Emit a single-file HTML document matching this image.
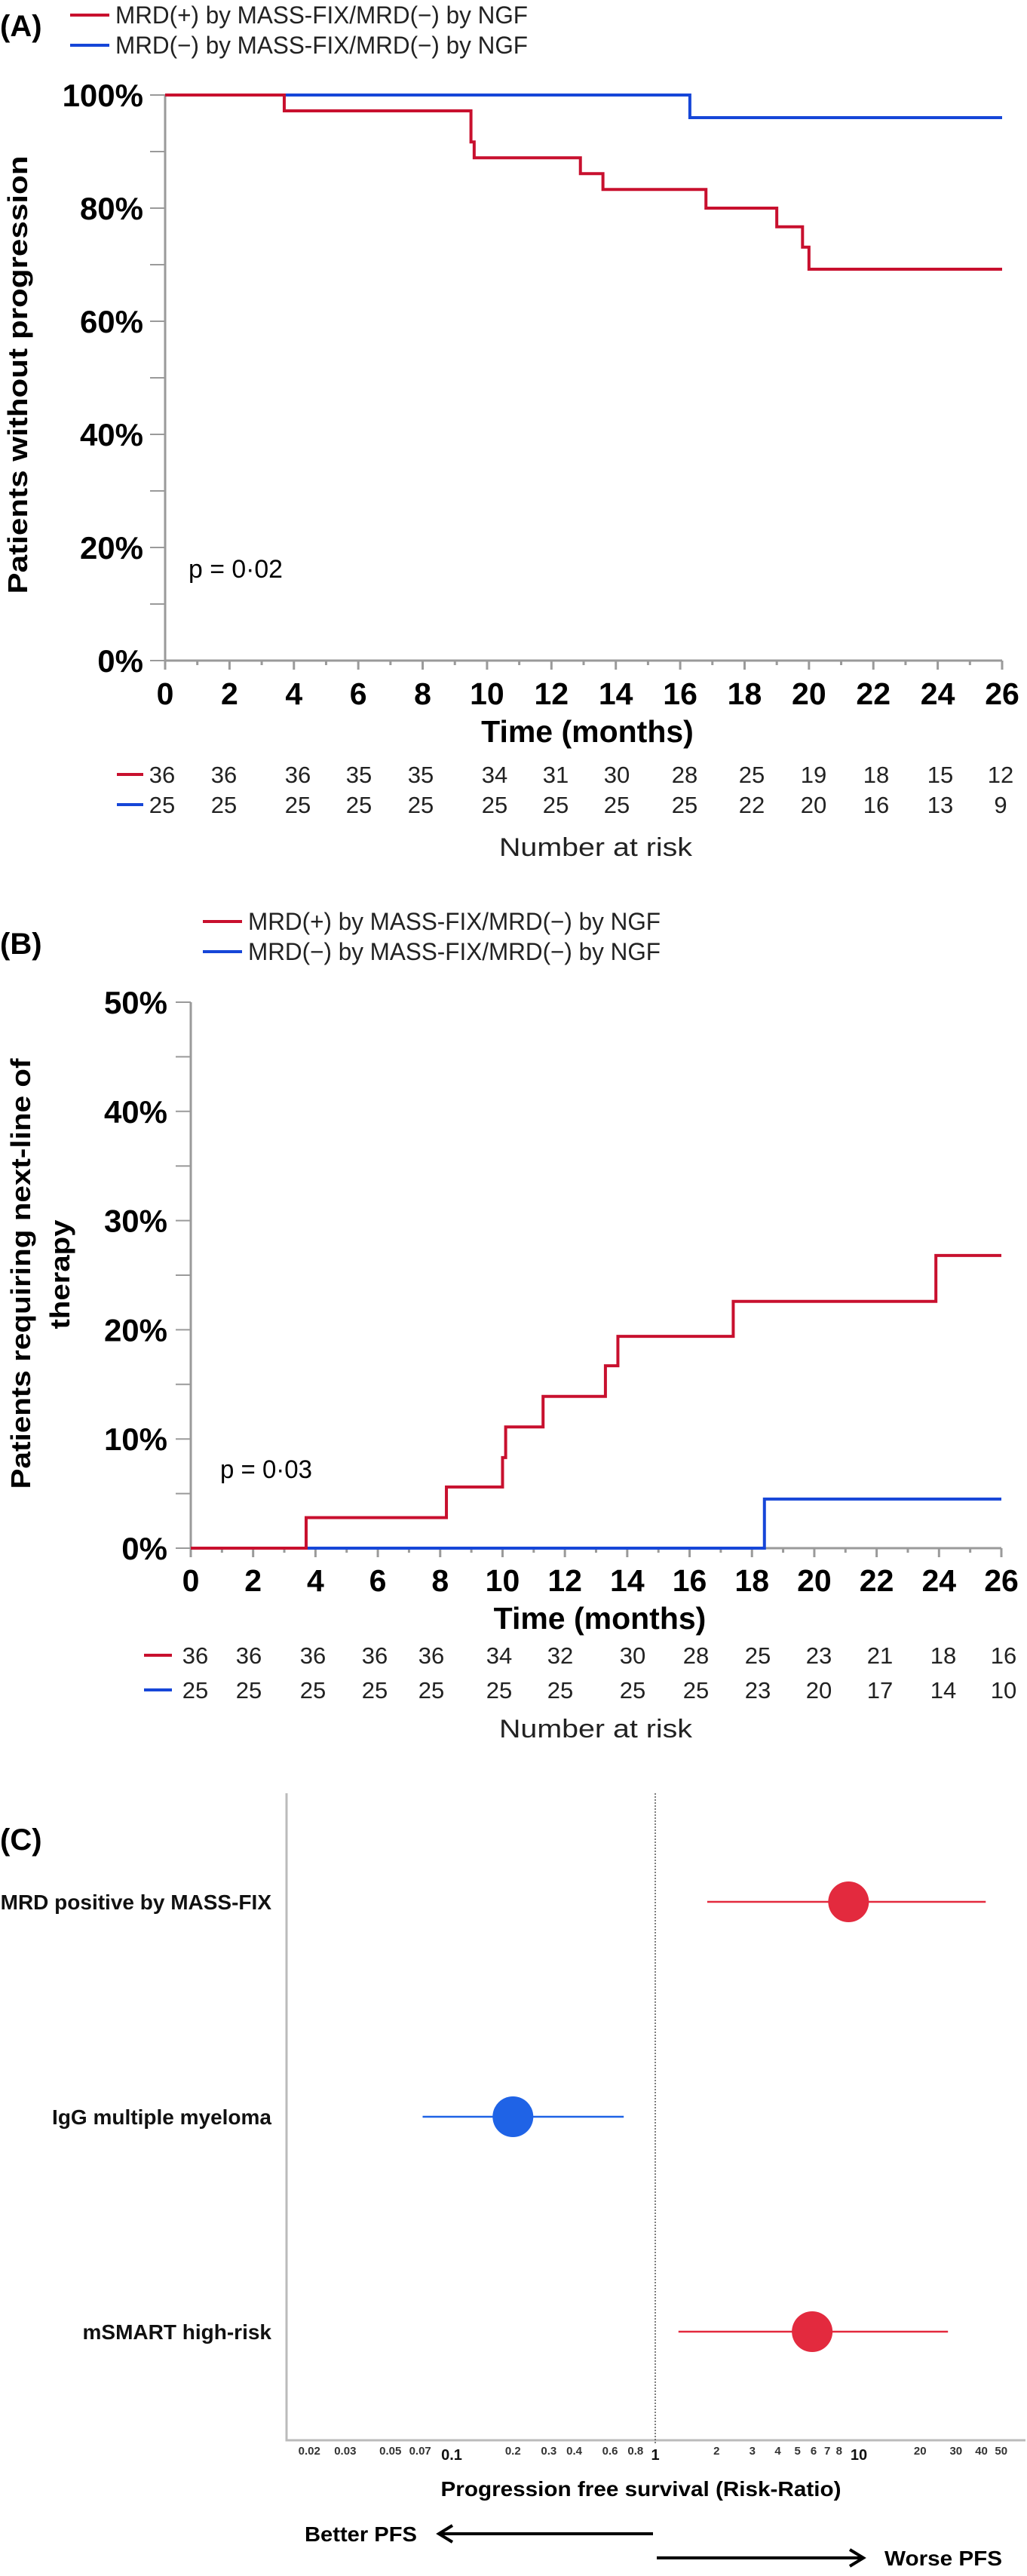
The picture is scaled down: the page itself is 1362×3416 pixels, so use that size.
<!DOCTYPE html>
<html><head><meta charset="utf-8"><style>
html,body{margin:0;padding:0;background:#fff}
svg{display:block;font-family:"Liberation Sans",Arial,sans-serif}
</style></head><body>
<svg id="fig" width="1362" height="3416" viewBox="0 0 1362 3416" xmlns="http://www.w3.org/2000/svg">
<g id="pa"></g>
<g id="pb"></g>
<g id="pc"></g>
</svg>
<script>
// Panel A data
const aTicksX = [0,2,4,6,8,10,12,14,16,18,20,22,24,26];
const aTicksY = [0,20,40,60,80,100];
const aRedT = [0,3.7,9.5,9.6,12.9,13.6,16.8,19.0,19.8,20.0,26];
const aRedV = [100,97.2,91.7,88.9,86.1,83.3,80.0,76.7,73.1,69.2,69.2];
const aBlueT = [0,16.3,26];
const aBlueV = [100,96.0,96.0];
const aRiskRed = [36,36,36,35,35,34,31,30,28,25,19,18,15,12];
const aRiskBlue = [25,25,25,25,25,25,25,25,25,22,20,16,13,9];
const aRiskX = [215,297,395,476,558,656,737,818,908,997,1079,1162,1247,1327];
// Panel B data
const bTicksX = [0,2,4,6,8,10,12,14,16,18,20,22,24,26];
const bTicksY = [0,10,20,30,40,50];
const bRedT = [0,3.7,8.2,10.0,10.1,11.3,13.3,13.7,17.4,23.9,26];
const bRedV = [0,2.8,5.6,8.3,11.1,13.9,16.7,19.4,22.6,26.8,26.8];
const bBlueT = [0,18.4,26];
const bBlueV = [0,4.5,4.5];
const bRiskRed = [36,36,36,36,36,34,32,30,28,25,23,21,18,16];
const bRiskBlue = [25,25,25,25,25,25,25,25,25,23,20,17,14,10];
const bRiskX = [259,330,415,497,572,662,743,839,923,1005,1086,1167,1251,1331];
// Panel C data
const cLabels = ["MRD positive by MASS-FIX","IgG multiple myeloma","mSMART  high-risk"];
const cEst = [8.9,0.2,5.9];
const cLow = [1.8,0.072,1.3];
const cHigh = [42,0.70,27.4];
const cColors = ["red","blue","red"];
const cTicks = [0.02,0.03,0.05,0.07,0.1,0.2,0.3,0.4,0.6,0.8,1,2,3,4,5,6,7,8,10,20,30,40,50];
const cMajor = [0.1,1,10];

const NS="http://www.w3.org/2000/svg";
const RED="#c8102e", BLUE="#1646d8", AX="#9a9a9a";
function mk(parent,tag,attrs,txt){const e=document.createElementNS(NS,tag);for(const k in attrs)e.setAttribute(k,attrs[k]);if(txt!==undefined)e.textContent=txt;parent.appendChild(e);return e;}
function stepPath(ts,vs,sx,sy){let d="M"+sx(ts[0])+","+sy(vs[0]);for(let i=1;i<ts.length;i++){d+=" H"+sx(ts[i])+" V"+sy(vs[i]);}return d;}

function km(g,o){
  const sx=t=>o.x0+(o.x1-o.x0)*t/26;
  const sy=v=>o.y0+(o.y1-o.y0)*(v-o.vmin)/(o.vmax-o.vmin);
  // label
  let t=mk(g,"text",{x:0,y:o.labY,"font-size":40,"font-weight":"bold"},o.lab);
  
  
  // legend
  const lg=[["MRD(+) by MASS-FIX/MRD(\u2212) by NGF",RED,o.legY[0]],["MRD(\u2212) by MASS-FIX/MRD(\u2212) by NGF",BLUE,o.legY[1]]];
  lg.forEach((l,i)=>{
    const ln=mk(g,"line",{x1:o.legX,x2:o.legX+52,y1:l[2],y2:l[2],stroke:l[1],"stroke-width":4});
    
    
    const tx=mk(g,"text",{x:o.legX+60,y:l[2]+11,"font-size":32,textLength:547,lengthAdjust:"spacingAndGlyphs",fill:"#222"},l[0]);
    
    
  });
  // axes
  const ax=mk(g,"path",{d:`M${o.x0},${o.y1} V${o.y0} H${o.x1}`,stroke:AX,"stroke-width":3,fill:"none"});
  
  
  for(let m=0;m<=26;m++){const tk=mk(g,"line",{x1:sx(m),x2:sx(m),y1:o.y0,y2:o.y0+(m%2?6:12),stroke:AX,"stroke-width":3});
    
    }
  const stepY=(o.vmax-o.vmin)/10;
  for(let v=o.vmin;v<=o.vmax+0.01;v+=stepY){const tk=mk(g,"line",{x1:o.x0-20,x2:o.x0,y1:sy(v),y2:sy(v),stroke:AX,"stroke-width":2});
    
    }
  o.ticksX.forEach(v=>{const tl=mk(g,"text",{x:sx(v),y:o.tickY,"font-size":41,"font-weight":"bold","text-anchor":"middle"},String(v));
    
    });
  o.ticksY.forEach(v=>{const tl=mk(g,"text",{x:o.ylabRight,y:sy(v)+15,"font-size":42,"font-weight":"bold","text-anchor":"end"},v+"%");
    
    });
  const xt=mk(g,"text",{x:(o.x0+o.x1)/2+5,y:o.titleY,"font-size":41,"font-weight":"bold","text-anchor":"middle"},"Time (months)");
  
  
  o.yTitle.forEach(yt=>{const e=mk(g,"text",{x:0,y:0,"font-size":36,"font-weight":"bold","text-anchor":"middle",textLength:yt[3],lengthAdjust:"spacingAndGlyphs",transform:`translate(${yt[1]},${yt[2]}) rotate(-90)`},yt[0]);
    
    });
  const p=mk(g,"text",{x:o.pX,y:o.pY,"font-size":34,textLength:o.pW,lengthAdjust:"spacingAndGlyphs"},o.pText);
  
  
  // curves
  const bl=mk(g,"path",{d:stepPath(o.blueT,o.blueV,sx,sy),stroke:BLUE,"stroke-width":4,fill:"none"});
  
  
  const rd=mk(g,"path",{d:stepPath(o.redT,o.redV,sx,sy),stroke:RED,"stroke-width":4,fill:"none"});
  
  
  // risk table
  [[o.riskRed,RED,o.riskY[0]],[o.riskBlue,BLUE,o.riskY[1]]].forEach(r=>{
    const d=mk(g,"line",{x1:o.dashX[0],x2:o.dashX[1],y1:r[2]-11,y2:r[2]-11,stroke:r[1],"stroke-width":4});
    
    
    r[0].forEach((n,i)=>{const e=mk(g,"text",{x:o.riskX[i],y:r[2],"font-size":31,"text-anchor":"middle",fill:"#222"},String(n));
      
      });
  });
  const nr=mk(g,"text",{x:790,y:o.narY,"font-size":34,"text-anchor":"middle",textLength:256,lengthAdjust:"spacingAndGlyphs",fill:"#222"},"Number at risk");
  
  
}

km(document.getElementById('pa'),{lab:"(A)",labY:48,legY:[20,60],legX:93,x0:219,x1:1329,y0:876,y1:126,vmin:0,vmax:100,
 ticksX:aTicksX,ticksY:aTicksY,tickY:934,ylabRight:190,titleY:984,yTitle:[["Patients without progression",36,497,581]],
 pX:250,pY:766,pW:125,pText:"p = 0\u00b702",redT:aRedT,redV:aRedV,blueT:aBlueT,blueV:aBlueV,
 riskRed:aRiskRed,riskBlue:aRiskBlue,riskX:aRiskX,riskY:[1038,1078],dashX:[155,190],narY:1135});
km(document.getElementById('pb'),{lab:"(B)",labY:1265,legY:[1222,1262],legX:269,x0:253,x1:1328,y0:2053,y1:1329,vmin:0,vmax:50,
 ticksX:bTicksX,ticksY:bTicksY,tickY:2110,ylabRight:222,titleY:2160,yTitle:[["Patients requiring next-line of",40,1689,571],["therapy",92,1690,145]],
 pX:292,pY:1960,pW:122,pText:"p = 0\u00b703",redT:bRedT,redV:bRedV,blueT:bBlueT,blueV:bBlueV,
 riskRed:bRiskRed,riskBlue:bRiskBlue,riskX:bRiskX,riskY:[2206,2252],dashX:[191,228],narY:2304});

// Panel C
(function(){
  const g=document.getElementById('pc');
  const X1=869, DEC=270;
  const sx=v=>X1+DEC*Math.log10(v);
  const rowY=[2522,2807,3092];
  let t=mk(g,"text",{x:0,y:2453,"font-size":40,"font-weight":"bold"},"(C)");
  
  
  const ax=mk(g,"path",{d:"M380,2378 V3236 H1360",stroke:"#bbb","stroke-width":3,fill:"none"});
  
  
  const ref=mk(g,"line",{x1:sx(1),x2:sx(1),y1:2378,y2:3242,stroke:"#555","stroke-width":1.5,"stroke-dasharray":"2,2"});
  
  
  cTicks.forEach(v=>{
    const maj=cMajor.indexOf(v)>=0;
    const e=mk(g,"text",{x:sx(v),y:maj?3262:3255,"font-size":maj?20:15,"font-weight":"bold","text-anchor":"middle",fill:maj?"#111":"#333"},String(v));
    
    
  });
  cLabels.forEach((l,i)=>{
    const col=cColors[i]==="red"?"#e32a3e":"#1f63e6";
    const e=mk(g,"text",{x:360,y:rowY[i]+10,"font-size":28,"font-weight":"bold","text-anchor":"end",fill:"#111"},l);
    
    
    const ln=mk(g,"line",{x1:sx(cLow[i]),x2:sx(cHigh[i]),y1:rowY[i],y2:rowY[i],stroke:col,"stroke-width":2.5});
    
    
    const c=mk(g,"circle",{cx:sx(cEst[i]),cy:rowY[i],r:27,fill:col});
    
    
  });
  const tt=mk(g,"text",{x:850,y:3310,"font-size":28,"font-weight":"bold","text-anchor":"middle",textLength:531,lengthAdjust:"spacingAndGlyphs"},"Progression  free survival (Risk-Ratio)");
  
  
  const a1=mk(g,"path",{d:"M866,3360 H584 M600,3349 L582,3360 L600,3371",stroke:"#000","stroke-width":4,fill:"none"});
  
  
  const b=mk(g,"text",{x:404,y:3370,"font-size":28,"font-weight":"bold",textLength:149,lengthAdjust:"spacingAndGlyphs"},"Better PFS");
  
  
  const a2=mk(g,"path",{d:"M871,3392 H1143 M1127,3381 L1145,3392 L1127,3403",stroke:"#000","stroke-width":4,fill:"none"});
  
  
  const w=mk(g,"text",{x:1173,y:3402,"font-size":28,"font-weight":"bold",textLength:156,lengthAdjust:"spacingAndGlyphs"},"Worse PFS");
  
  
})();
</script>
</body></html>
